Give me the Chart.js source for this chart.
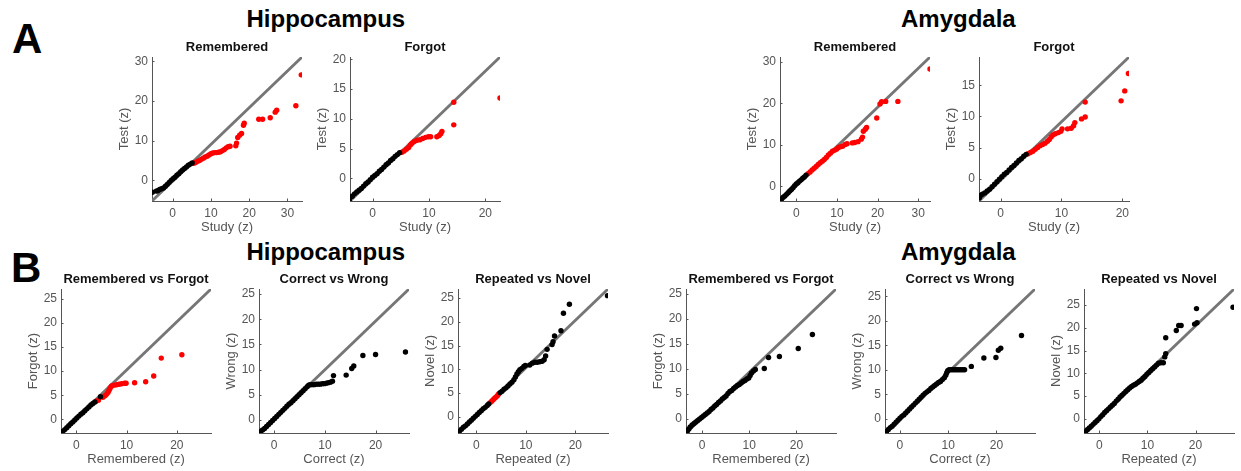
<!DOCTYPE html>
<html>
<head>
<meta charset="utf-8">
<title>Hippocampus / Amygdala QQ plots</title>
<script src="https://cdn.jsdelivr.net/npm/chart.js@4.4.1/dist/chart.umd.min.js"></script>
<style>
  html, body { margin: 0; padding: 0; background: #fff; overflow: hidden; }
  body { position: relative; width: 1241px; height: 471px; font-family: "Liberation Sans", Arial, sans-serif; }
  canvas { position: absolute; }
  .letter { position: absolute; font-weight: bold; font-size: 42px; line-height: 42px; color: #000; }
  .region { position: absolute; font-weight: bold; font-size: 24px; line-height: 24px; color: #000; }
</style>
</head>
<body>
<div class="letter" style="left:12px; top:17.5px">A</div>
<div class="letter" style="left:11px; top:247px">B</div>
<div class="region" style="left:246.5px; top:7.4px">Hippocampus</div>
<div class="region" style="left:901px; top:7.4px">Amygdala</div>
<div class="region" style="left:246.5px; top:240.4px">Hippocampus</div>
<div class="region" style="left:901px; top:240.4px">Amygdala</div>

<script>
// tick values
const ticksTo30 = [0, 10, 20, 30];
const ticksTo20 = [0, 10, 20];
const ticks5To20 = [0, 5, 10, 15, 20];
const ticks5To15 = [0, 5, 10, 15];
const ticks5To25 = [0, 5, 10, 15, 20, 25];

// A: study vs test, hippocampus
const hcRememberedBlack = [[-5.3,-3.0],[-4.3,-2.7],[-3.9,-2.6],[-3.4,-2.3],[-2.9,-2.1],[-2.4,-1.9],[-1.9,-1.5],[-1.4,-1.0],[-0.9,-0.5],[-0.4,0.0],[0.1,0.4],[0.6,0.8],[1.1,1.3],[1.6,1.7],[2.1,2.2],[2.6,2.6],[3.1,3.0],[3.6,3.4],[4.1,3.8],[4.6,4.1],[5.1,4.4]];
const hcRememberedRed = [[5.5,4.3],[6.0,4.5],[6.5,4.8],[7.0,5.0],[7.5,5.3],[8.0,5.6],[8.5,5.9],[9.0,6.1],[9.5,6.4],[10.0,6.7],[10.5,6.9],[11.0,7.0],[11.5,7.0],[12.0,7.1],[12.5,7.2],[13.0,7.5],[13.5,7.8],[14.0,8.2],[14.5,8.5],[15.0,8.6],[16.5,8.7],[16.7,9.4],[17.0,10.8],[17.5,11.4],[18.0,11.8],[18.5,13.9],[18.7,14.4],[22.5,15.4],[23.5,15.4],[25.5,15.8],[26.8,17.2],[27.2,17.7],[32.2,18.8],[33.6,26.6]];
const hcForgotBlack = [[-4.1,-3.6],[-3.6,-3.0],[-3.2,-2.6],[-2.8,-2.3],[-2.4,-2.0],[-2.0,-1.7],[-1.6,-1.3],[-1.2,-0.9],[-0.8,-0.6],[-0.4,-0.2],[0.0,0.2],[0.4,0.5],[0.8,0.8],[1.2,1.2],[1.6,1.5],[2.0,1.9],[2.4,2.3],[2.8,2.6],[3.2,3.0],[3.6,3.3],[4.0,3.7],[4.4,4.0],[4.8,4.3]];
const hcForgotRed = [[5.2,4.4],[5.6,4.6],[6.0,4.9],[6.4,5.2],[6.7,5.6],[7.0,5.9],[7.4,6.2],[7.9,6.4],[8.4,6.5],[8.9,6.7],[9.4,6.9],[9.9,7.0],[10.3,7.0],[11.4,7.0],[11.8,7.2],[12.1,7.5],[12.3,7.9],[14.4,9.0],[14.4,12.8],[22.6,13.5]];

// A: study vs test, amygdala
const amRememberedBlack = [[-4.0,-3.4],[-3.6,-3.0],[-3.2,-2.6],[-2.8,-2.3],[-2.4,-1.9],[-2.0,-1.5],[-1.6,-1.1],[-1.2,-0.7],[-0.8,-0.3],[-0.4,0.2],[0.0,0.6],[0.4,0.9],[0.8,1.3],[1.2,1.6],[1.6,2.0],[2.0,2.3],[2.4,2.7]];
const amRememberedRed = [[2.9,3.1],[3.4,3.5],[3.9,4.0],[4.4,4.4],[4.9,4.8],[5.4,5.3],[5.9,5.7],[6.4,6.1],[6.9,6.5],[7.4,7.0],[7.9,7.6],[8.4,8.0],[8.9,8.5],[9.4,8.7],[9.9,9.0],[10.4,9.4],[10.9,9.6],[11.4,9.7],[12.0,10.1],[12.5,10.3],[13.8,10.5],[14.4,10.6],[15.2,10.8],[16.0,11.4],[16.3,11.9],[16.5,13.3],[17.0,13.8],[17.3,14.2],[19.8,16.5],[20.6,19.9],[21.0,20.4],[22.0,20.5],[25.0,20.5],[32.9,28.3]];
const amForgotBlack = [[-3.5,-3.1],[-3.3,-2.7],[-3.0,-2.5],[-2.6,-2.3],[-2.2,-2.0],[-1.8,-1.7],[-1.4,-1.3],[-1.0,-0.9],[-0.6,-0.5],[-0.2,-0.1],[0.2,0.3],[0.6,0.7],[1.0,1.0],[1.4,1.4],[1.8,1.8],[2.2,2.1],[2.6,2.5],[3.0,2.9],[3.4,3.2],[3.8,3.6],[4.2,3.9]];
const amForgotRed = [[4.5,4.0],[4.9,4.2],[5.3,4.4],[5.7,4.7],[6.1,5.0],[6.5,5.3],[6.9,5.5],[7.3,5.7],[7.7,6.0],[8.0,6.3],[8.3,6.7],[8.6,7.0],[9.0,7.2],[9.5,7.4],[9.9,7.6],[10.1,8.0],[11.0,8.0],[11.6,8.1],[12.0,8.5],[12.2,9.0],[13.3,9.6],[13.9,9.9],[13.9,12.3],[19.8,12.5],[20.4,14.1],[21.0,16.9]];

// B: condition comparisons, hippocampus
const hcRemVsForgotBlack = [[-3.0,-2.8],[-2.7,-2.5],[-2.3,-2.1],[-1.9,-1.7],[-1.5,-1.3],[-1.1,-0.9],[-0.7,-0.5],[-0.3,-0.1],[0.1,0.3],[0.5,0.7],[0.9,1.1],[1.3,1.4],[1.7,1.8],[2.1,2.2],[2.5,2.6],[2.9,3.0],[3.3,3.3],[3.7,3.6],[4.8,4.7]];
const hcRemVsForgotRed = [[4.0,3.8],[4.4,4.0],[5.3,4.6],[5.7,4.9],[6.0,5.2],[6.3,5.6],[6.5,6.0],[6.7,6.4],[6.9,6.8],[7.1,7.0],[7.5,7.1],[8.0,7.2],[8.5,7.3],[9.0,7.4],[9.6,7.5],[9.9,7.5],[11.6,7.6],[13.8,7.8],[15.4,9.0],[16.9,12.7],[21.0,13.4]];
const hcCorrectVsWrong = [[-3.0,-2.6],[-2.7,-2.3],[-2.3,-2.0],[-1.9,-1.7],[-1.5,-1.3],[-1.1,-0.9],[-0.7,-0.5],[-0.3,-0.1],[0.1,0.3],[0.5,0.7],[0.9,1.1],[1.3,1.5],[1.7,1.9],[2.1,2.3],[2.5,2.7],[2.9,3.1],[3.3,3.4],[3.7,3.8],[4.1,4.2],[4.5,4.6],[4.9,5.0],[5.3,5.4],[5.7,5.8],[6.1,6.2],[6.5,6.6],[6.8,6.9],[7.1,7.0],[7.5,7.0],[7.9,7.0],[8.3,7.1],[8.7,7.1],[9.1,7.1],[9.5,7.2],[9.9,7.2],[10.3,7.3],[10.7,7.4],[11.1,7.5],[11.5,7.7],[11.7,8.8],[14.2,8.9],[15.3,10.2],[15.7,10.7],[17.5,12.8],[20.0,13.0],[25.9,13.5]];
const hcRepVsNovelBlack = [[-3.7,-3.2],[-3.4,-3.0],[-3.0,-2.6],[-2.6,-2.2],[-2.2,-1.9],[-1.8,-1.5],[-1.4,-1.1],[-1.0,-0.7],[-0.6,-0.3],[-0.2,0.1],[0.2,0.5],[0.6,0.9],[1.0,1.3],[1.4,1.7],[1.8,2.0],[2.2,2.4],[2.5,2.7],[4.8,5.1],[5.2,5.4],[5.6,5.8],[6.0,6.1],[6.4,6.5],[6.8,6.9],[7.2,7.3],[7.6,7.8],[7.9,8.4],[8.2,9.0],[8.5,9.5],[8.8,9.9],[9.2,10.2],[9.6,10.6],[9.9,10.8],[10.8,10.9],[11.3,11.3],[11.8,11.5],[12.3,11.5],[12.8,11.6],[13.3,11.7],[13.7,12.0],[14.0,12.8],[14.3,14.2],[15.3,15.2],[15.5,15.8],[15.8,17.0],[17.1,18.1],[17.6,21.8],[18.8,23.7],[26.5,25.5]];
const hcRepVsNovelRed = [[2.8,3.0],[3.1,3.3],[3.4,3.6],[3.7,3.9],[4.0,4.2],[4.3,4.5],[4.5,4.8]];

// B: condition comparisons, amygdala
const amRemVsForgot = [[-3.4,-2.8],[-3.1,-2.4],[-2.8,-2.0],[-2.5,-1.6],[-2.1,-1.2],[-1.7,-0.9],[-1.3,-0.6],[-0.9,-0.3],[-0.5,0.0],[-0.1,0.3],[0.3,0.6],[0.7,0.9],[1.1,1.2],[1.5,1.5],[1.9,1.9],[2.3,2.2],[2.7,2.6],[3.1,2.9],[3.5,3.3],[3.9,3.6],[4.3,4.0],[4.7,4.3],[5.1,4.6],[5.5,5.1],[5.9,5.5],[6.3,5.7],[6.7,6.1],[7.1,6.4],[7.5,6.7],[7.9,6.9],[8.3,7.2],[8.7,7.5],[9.1,7.7],[9.5,8.0],[9.9,8.2],[10.2,8.7],[10.5,9.2],[10.9,9.6],[11.3,9.9],[13.2,10.1],[14.1,12.3],[16.4,12.5],[20.4,14.1],[23.4,16.9]];
const amCorrectVsWrong = [[-3.1,-2.9],[-2.8,-2.6],[-2.4,-2.2],[-2.0,-1.8],[-1.6,-1.5],[-1.2,-1.1],[-0.8,-0.7],[-0.4,-0.3],[0.0,0.1],[0.4,0.5],[0.8,0.8],[1.2,1.2],[1.6,1.6],[2.0,2.0],[2.4,2.4],[2.8,2.8],[3.2,3.2],[3.6,3.6],[4.0,4.0],[4.4,4.4],[4.8,4.8],[5.2,5.2],[5.6,5.5],[6.0,5.8],[6.4,6.2],[6.8,6.5],[7.2,6.8],[7.6,7.1],[8.0,7.4],[8.4,7.6],[8.8,8.0],[9.2,8.4],[9.5,8.9],[9.7,9.4],[9.9,9.8],[10.2,10.0],[10.6,10.0],[11.0,10.0],[11.4,10.0],[11.8,10.0],[12.2,10.0],[12.6,10.0],[13.0,10.0],[13.4,10.0],[14.8,10.7],[17.4,12.4],[19.9,12.5],[20.4,14.0],[20.9,14.4],[25.2,17.0]];
const amRepVsNovel = [[-3.2,-3.1],[-2.9,-2.8],[-2.5,-2.4],[-2.1,-2.0],[-1.7,-1.6],[-1.3,-1.2],[-0.9,-0.8],[-0.5,-0.4],[-0.1,0.0],[0.3,0.5],[0.7,0.9],[1.1,1.4],[1.5,1.8],[1.9,2.2],[2.3,2.6],[2.7,3.0],[3.1,3.4],[3.5,3.9],[3.9,4.3],[4.3,4.8],[4.7,5.2],[5.1,5.6],[5.5,6.0],[5.9,6.4],[6.3,6.8],[6.7,7.1],[7.1,7.4],[7.5,7.6],[7.9,7.9],[8.3,8.2],[8.7,8.5],[9.1,8.9],[9.5,9.3],[9.9,9.8],[10.3,10.2],[10.7,10.6],[11.1,11.0],[11.5,11.4],[11.9,11.8],[12.3,12.2],[12.8,12.3],[13.3,12.3],[13.6,13.6],[13.8,14.3],[13.8,17.8],[16.0,19.4],[16.5,20.5],[17.0,20.5],[19.8,20.8],[20.3,21.1],[20.2,24.2],[27.8,24.5]];

const panels = [
  { title: 'Remembered', xLabel: 'Study (z)', yLabel: 'Test (z)', left: 152, top: 57, xLim: [-5.4, 33.8], yLim: [-5.2, 31.1], xTicks: ticksTo30, yTicks: ticksTo30, black: hcRememberedBlack, red: hcRememberedRed },
  { title: 'Forgot', xLabel: 'Study (z)', yLabel: 'Test (z)', left: 350, top: 57, xLim: [-4.0, 22.6], yLim: [-3.8, 20.4], xTicks: ticksTo20, yTicks: ticks5To20, black: hcForgotBlack, red: hcForgotRed },
  { title: 'Remembered', xLabel: 'Study (z)', yLabel: 'Test (z)', left: 780, top: 57, xLim: [-4.0, 32.9], yLim: [-3.5, 31.2], xTicks: ticksTo30, yTicks: ticksTo30, black: amRememberedBlack, red: amRememberedRed },
  { title: 'Forgot', xLabel: 'Study (z)', yLabel: 'Test (z)', left: 979, top: 57, xLim: [-3.55, 21.1], yLim: [-3.6, 19.55], xTicks: ticksTo20, yTicks: ticks5To15, black: amForgotBlack, red: amForgotRed },
  { title: 'Remembered vs Forgot', xLabel: 'Remembered (z)', yLabel: 'Forgot (z)', left: 61, top: 289, xLim: [-3.05, 26.8], yLim: [-2.8, 27.0], xTicks: ticksTo20, yTicks: ticks5To25, black: hcRemVsForgotBlack, red: hcRemVsForgotRed },
  { title: 'Correct vs Wrong', xLabel: 'Correct (z)', yLabel: 'Wrong (z)', left: 259, top: 289, xLim: [-3.0, 26.6], yLim: [-2.6, 26.0], xTicks: ticksTo20, yTicks: ticks5To25, black: hcCorrectVsWrong, red: [] },
  { title: 'Repeated vs Novel', xLabel: 'Repeated (z)', yLabel: 'Novel (z)', left: 458, top: 289, xLim: [-3.7, 26.6], yLim: [-3.4, 26.9], xTicks: ticksTo20, yTicks: ticks5To25, black: hcRepVsNovelBlack, red: hcRepVsNovelRed },
  { title: 'Remembered vs Forgot', xLabel: 'Remembered (z)', yLabel: 'Forgot (z)', left: 686, top: 289, xLim: [-3.4, 28.4], yLim: [-2.8, 26.0], xTicks: ticksTo20, yTicks: ticks5To25, black: amRemVsForgot, red: [] },
  { title: 'Correct vs Wrong', xLabel: 'Correct (z)', yLabel: 'Wrong (z)', left: 885, top: 289, xLim: [-3.1, 28.0], yLim: [-2.9, 26.5], xTicks: ticksTo20, yTicks: ticks5To25, black: amCorrectVsWrong, red: [] },
  { title: 'Repeated vs Novel', xLabel: 'Repeated (z)', yLabel: 'Novel (z)', left: 1084, top: 289, xLim: [-3.2, 28.0], yLim: [-3.1, 28.5], xTicks: ticksTo20, yTicks: ticks5To25, black: amRepVsNovel, red: [] },
];

const Y_AXIS_W = 46;
const X_AXIS_H = 36;
const TITLE_H = 21;
const PLOT_W = 150;
const PLOT_H = 144;
const PAD_R = 12;
const AXIS_COLOR = '#555';

Chart.defaults.font.family = '"Liberation Sans", Arial, sans-serif';

// small tick marks pointing into the plot box
const innerTicks = {
  id: 'innerTicks',
  afterDatasetsDraw(chart) {
    const { ctx, chartArea, scales } = chart;
    ctx.save();
    ctx.strokeStyle = AXIS_COLOR;
    ctx.lineWidth = 1;
    ctx.beginPath();
    scales.x.ticks.forEach((t) => {
      const px = Math.round(scales.x.getPixelForValue(t.value)) + 0.5;
      ctx.moveTo(px, chartArea.bottom);
      ctx.lineTo(px, chartArea.bottom - 2.5);
    });
    scales.y.ticks.forEach((t) => {
      const py = Math.round(scales.y.getPixelForValue(t.value)) + 0.5;
      ctx.moveTo(chartArea.left, py);
      ctx.lineTo(chartArea.left + 2.5, py);
    });
    ctx.stroke();
    ctx.restore();
  },
};

const toXY = (pts) => pts.map(([x, y]) => ({ x, y }));

function axis(lim, ticks, label, isX) {
  return {
    type: 'linear',
    min: lim[0],
    max: lim[1],
    grid: { display: false, drawTicks: false },
    border: { display: true, color: AXIS_COLOR, width: 1 },
    ticks: { color: AXIS_COLOR, font: { size: 12 }, padding: isX ? 5.3 : 4 },
    afterBuildTicks: (scale) => {
      scale.ticks = ticks.map((v) => ({ value: v }));
    },
    afterFit: (scale) => {
      if (isX) scale.height = X_AXIS_H;
      else scale.width = Y_AXIS_W;
    },
    title: {
      display: true,
      text: label,
      color: AXIS_COLOR,
      font: { size: 13 },
      padding: isX ? { top: 0, bottom: 2.2 } : { top: 10.7, bottom: 0 },
    },
  };
}

panels.forEach((p) => {
  const canvas = document.createElement('canvas');
  canvas.width = Y_AXIS_W + PLOT_W + PAD_R;
  canvas.height = TITLE_H + PLOT_H + X_AXIS_H;
  canvas.style.left = (p.left - Y_AXIS_W) + 'px';
  canvas.style.top = (p.top - TITLE_H) + 'px';
  document.body.appendChild(canvas);

  const pointStyle = { pointRadius: 2.7, pointBorderWidth: 0, showLine: false, order: 1 };

  new Chart(canvas, {
    type: 'scatter',
    data: {
      datasets: [
        { data: toXY(p.black), backgroundColor: '#000', ...pointStyle },
        { data: toXY(p.red), backgroundColor: '#ff0000', ...pointStyle },
        {
          // diagonal across the axes box
          type: 'line',
          data: [{ x: p.xLim[0], y: p.yLim[0] }, { x: p.xLim[1], y: p.yLim[1] }],
          borderColor: '#767676',
          borderWidth: 2.8,
          pointRadius: 0,
          order: 2,
        },
      ],
    },
    options: {
      responsive: false,
      animation: false,
      events: [],
      layout: { padding: { left: 0, right: PAD_R, top: 0, bottom: 0 } },
      plugins: {
        legend: { display: false },
        tooltip: { enabled: false },
        title: {
          display: true,
          text: p.title,
          fullSize: false,
          color: '#111',
          font: { size: 13, weight: 'bold' },
          padding: { top: 3.9, bottom: 1.5 },
        },
      },
      scales: {
        x: axis(p.xLim, p.xTicks, p.xLabel, true),
        y: axis(p.yLim, p.yTicks, p.yLabel, false),
      },
    },
    plugins: [innerTicks],
  });
});
</script>
</body>
</html>
